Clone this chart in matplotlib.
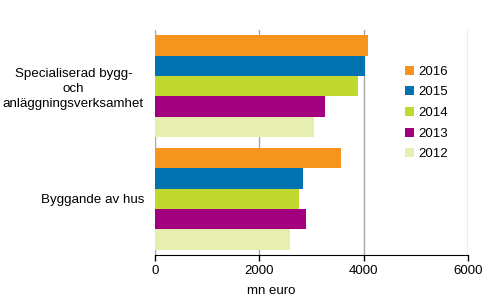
import matplotlib.pyplot as plt
import numpy as np

plt.rcParams['font.family'] = ['Liberation Sans', 'DejaVu Sans']

# Categories (top to bottom) and yearly values in mn euro
categories = ["Specialiserad bygg-\noch\nanläggningsverksamhet", "Byggande av hus"]
years = ["2016", "2015", "2014", "2013", "2012"]
values = {
    "2016": [4080, 3560],
    "2015": [4020, 2840],
    "2014": [3890, 2760],
    "2013": [3260, 2890],
    "2012": [3050, 2590],
}
colors = {
    "2016": "#F7941E",
    "2015": "#0072B0",
    "2014": "#C1D82F",
    "2013": "#A3007F",
    "2012": "#E6EFB0",
}
x_ticks = [0, 2000, 4000, 6000]

fig = plt.figure(figsize=(4.91, 3.02), dpi=100)
ax = fig.add_axes([155 / 491, 47 / 302, 313 / 491, 225 / 302])

# category centres: first category on top
y_pos = np.array([1.0, 0.0])
h = 0.182
for i, yr in enumerate(years):
    offset = (2 - i) * h
    ax.barh(y_pos + offset, values[yr], height=h, color=colors[yr], label=yr, zorder=2)

ax.set_ylim(-0.5, 1.5)
ax.set_xlim(0, 6000)
ax.set_yticks(y_pos)
ax.set_yticklabels(categories, fontsize=9.6, multialignment='center', linespacing=1.35)
ax.tick_params(axis='y', length=0, pad=8)
ax.set_xticks(x_ticks)
ax.set_xticklabels([str(t) for t in x_ticks], fontsize=9.5)
ax.tick_params(axis='x', direction='out', length=4, width=1, color='black', pad=3)

ax.grid(axis='x', color='#A6A6A6', linewidth=1, zorder=0)
for s in ['top', 'right', 'left']:
    ax.spines[s].set_visible(False)
ax.spines['bottom'].set_color('black')

ax.set_xlabel("mn euro", fontsize=9.5, x=0.37, labelpad=6)

leg = ax.legend(loc='upper left', bbox_to_anchor=(0.76, 0.895), frameon=False,
                fontsize=9.5, handlelength=0.7, handleheight=0.7, handletextpad=0.3,
                labelspacing=0.64)

fig.savefig("out.png", dpi=100)
